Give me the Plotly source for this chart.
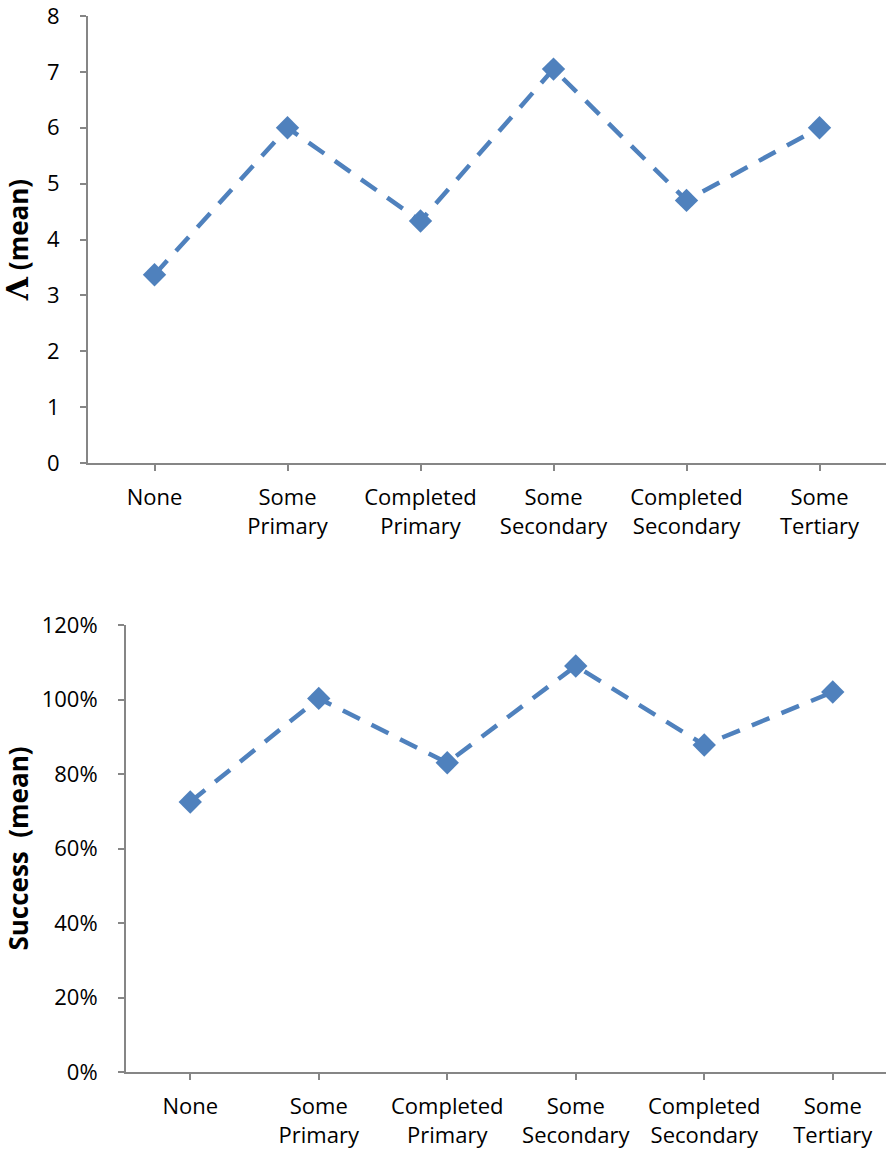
import plotly.graph_objects as go

categories = ["None", "Some<br>Primary", "Completed<br>Primary", "Some<br>Secondary",
              "Completed<br>Secondary", "Some<br>Tertiary"]
lambda_mean = [3.37, 6.0, 4.33, 7.05, 4.70, 6.0]
success_mean = [0.725, 1.003, 0.830, 1.090, 0.878, 1.020]

W = 886
H = 1156
COLOR = "#4F81BD"
AXIS = "#868686"
FONT = "Open Sans"
FS = 22
TFS = 26


def xd(px):
    return px / W


def yd(px):
    return 1 - px / H


fig = go.Figure()
x_idx = list(range(len(categories)))

line = dict(color=COLOR, width=4.5, dash="19px,13px")
marker = dict(symbol="diamond", size=18, color=COLOR)

fig.add_trace(go.Scatter(x=x_idx, y=lambda_mean, mode="lines+markers", line=line,
                         marker=marker, xaxis="x", yaxis="y", showlegend=False))
fig.add_trace(go.Scatter(x=x_idx, y=success_mean, mode="lines+markers", line=line,
                         marker=marker, xaxis="x2", yaxis="y2", showlegend=False))

common_x = dict(tickmode="array", tickvals=x_idx, ticktext=categories,
                showline=True, linecolor=AXIS, linewidth=2, ticks="outside",
                tickcolor=AXIS, ticklen=6, tickwidth=1.5, showgrid=False, zeroline=False,
                tickfont=dict(family=FONT, size=FS, color="black"),
                ticklabelstandoff=8, automargin=False, ticklabeloverflow="allow")
common_y = dict(showline=True, linecolor=AXIS, linewidth=2, ticks="outside",
                tickcolor=AXIS, ticklen=6, tickwidth=1.5, showgrid=False, zeroline=False,
                tickfont=dict(family=FONT, size=FS, color="black"),
                ticklabelstandoff=16, automargin=False, ticklabeloverflow="allow")

fig.update_layout(
    width=W, height=H,
    margin=dict(l=0, r=0, t=0, b=0),
    plot_bgcolor="white", paper_bgcolor="white",
    xaxis=dict(domain=[xd(88), 1.0], range=[-0.5, 5.5], anchor="y", **common_x),
    yaxis=dict(domain=[yd(463), yd(16)], range=[0, 8], dtick=1, anchor="x",
               title=dict(text="<b><span style='font-family:DejaVu Serif;font-size:30px'>Λ</span> (mean)</b>",
                          font=dict(family=FONT, size=TFS, color="black"),
                          standoff=37),
               **common_y),
    xaxis2=dict(domain=[xd(126), 1.0], range=[-0.5, 5.5 - 11 / 128.5], anchor="y2", **common_x),
    yaxis2=dict(domain=[yd(1072), yd(625)], range=[0, 1.2], dtick=0.2,
                tickformat=".0%", anchor="x2",
                title=dict(text="<b>Success  (mean)</b>", font=dict(family=FONT, size=TFS, color="black"),
                           standoff=37),
                **common_y),
)

fig.write_html("out.html", config={"displayModeBar": False},
               post_script="document.body.style.margin='0';document.body.style.overflow='hidden';")
